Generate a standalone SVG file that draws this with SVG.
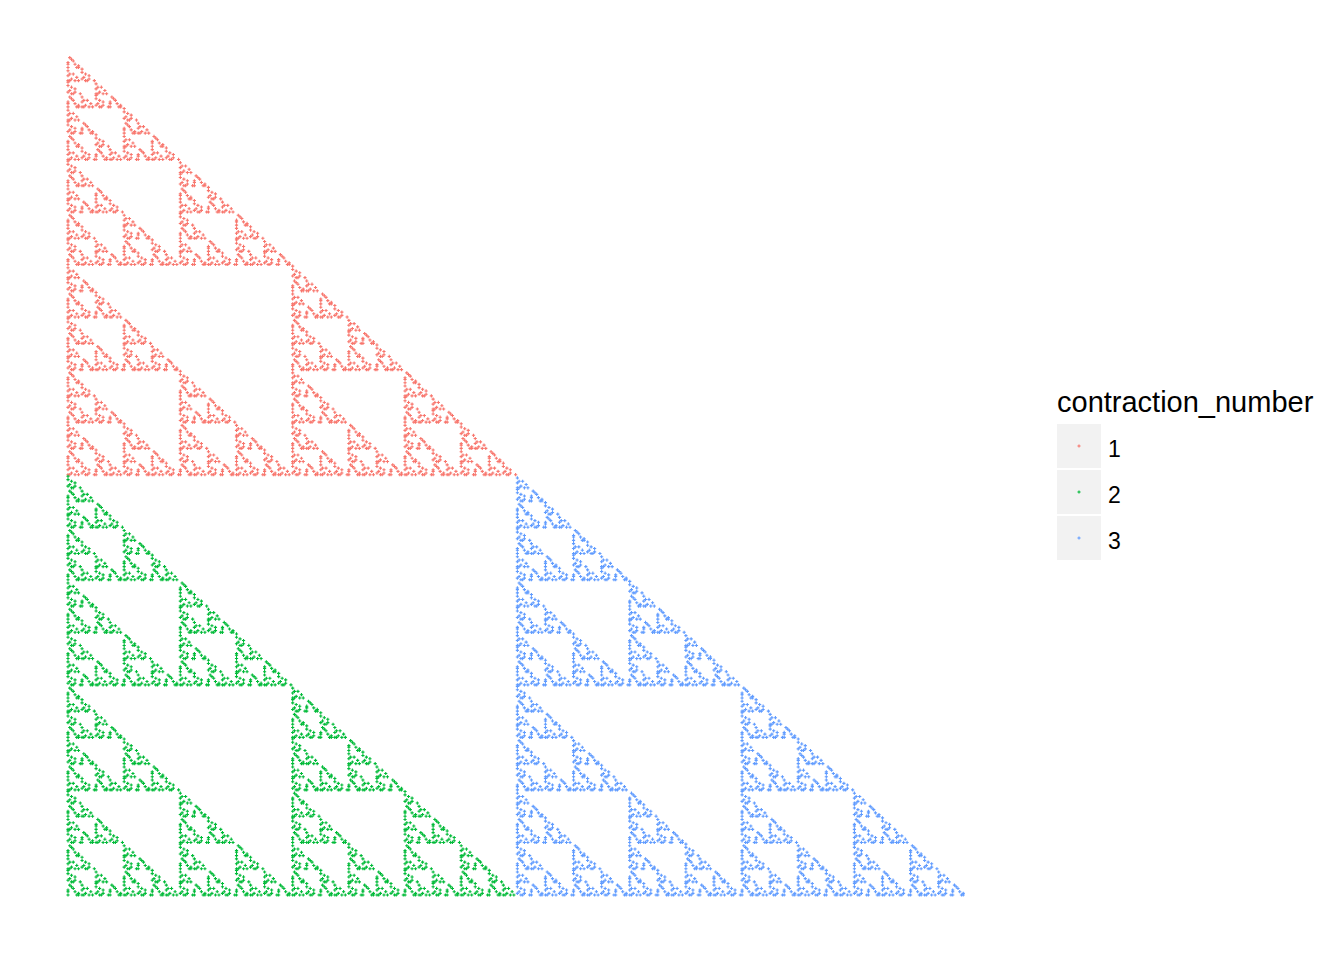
<svg xmlns="http://www.w3.org/2000/svg" width="1344" height="960" viewBox="0 0 1344 960">
<style>
.r{stroke:#F8766D;stroke-width:1.1;fill:none}
.g{stroke:#00BA38;stroke-width:1.1;fill:none}
.b{stroke:#619CFF;stroke-width:1.1;fill:none}
.key{fill:#F2F2F2}
.t{font-family:"Liberation Sans",Arial,sans-serif;fill:#000}
</style>
<defs>
<path id="p" d="M-1.6 0H1.6M0-1.6V1.6"/>
<g id="A3"><use href="#p"/><use href="#p" x="1.755"/><use href="#p" x="7.022"/><use href="#p" x="10.532"/><use href="#p" x="3.511" y="-1.642"/><use href="#p" x="8.777" y="-3.284"/><use href="#p" y="-4.926"/><use href="#p" x="1.755" y="-6.568"/><use href="#p" x="5.266" y="-6.568"/><use href="#p" y="-9.851"/></g>
<g id="B3"><use href="#p" x="3.511"/><use href="#p" x="5.266"/><use href="#p" x="12.288"/><use href="#p" y="-1.642"/><use href="#p" x="7.022" y="-1.642"/><use href="#p" x="1.755" y="-3.284"/><use href="#p" x="7.022" y="-4.926"/><use href="#p" x="3.511" y="-6.568"/><use href="#p" y="-8.209"/><use href="#p" y="-11.493"/></g>
<g id="C3"><use href="#p"/><use href="#p" x="8.777"/><use href="#p" x="10.532"/><use href="#p" x="10.532" y="-1.642"/><use href="#p" y="-3.284"/><use href="#p" x="7.022" y="-3.284"/><use href="#p" y="-4.926"/><use href="#p" x="5.266" y="-6.568"/><use href="#p" x="3.511" y="-8.209"/><use href="#p" x="1.755" y="-9.851"/></g>
<g id="A4"><use href="#A3"/><use href="#B3" x="14.043"/><use href="#C3" y="-13.135"/></g>
<g id="B4"><use href="#C3"/><use href="#A3" x="14.043"/><use href="#B3" y="-13.135"/></g>
<g id="C4"><use href="#B3"/><use href="#C3" x="14.043"/><use href="#A3" y="-13.135"/></g>
<g id="A5"><use href="#A4"/><use href="#B4" x="28.086"/><use href="#C4" y="-26.270"/></g>
<g id="B5"><use href="#C4"/><use href="#A4" x="28.086"/><use href="#B4" y="-26.270"/></g>
<g id="C5"><use href="#B4"/><use href="#C4" x="28.086"/><use href="#A4" y="-26.270"/></g>
<g id="A6"><use href="#A5"/><use href="#B5" x="56.172"/><use href="#C5" y="-52.540"/></g>
<g id="B6"><use href="#C5"/><use href="#A5" x="56.172"/><use href="#B5" y="-52.540"/></g>
<g id="C6"><use href="#B5"/><use href="#C5" x="56.172"/><use href="#A5" y="-52.540"/></g>
<g id="A7"><use href="#A6"/><use href="#B6" x="112.345"/><use href="#C6" y="-105.080"/></g>
<g id="B7"><use href="#C6"/><use href="#A6" x="112.345"/><use href="#B6" y="-105.080"/></g>
<g id="C7"><use href="#B6"/><use href="#C6" x="112.345"/><use href="#A6" y="-105.080"/></g>
<g id="A8"><use href="#A7"/><use href="#B7" x="224.689"/><use href="#C7" y="-210.160"/></g>
<g id="B8"><use href="#C7"/><use href="#A7" x="224.689"/><use href="#B7" y="-210.160"/></g>
<g id="C8"><use href="#B7"/><use href="#C7" x="224.689"/><use href="#A7" y="-210.160"/></g>
</defs>
<rect width="1344" height="960" fill="#fff"/>
<g id="points">
<g id="contraction-1" class="r"><use href="#A8" x="68" y="474.68"/></g>
<g id="contraction-2" class="g"><use href="#B8" x="68" y="895"/></g>
<g id="contraction-3" class="b"><use href="#C8" x="517.38" y="895"/></g>
</g>
<g id="legend">
<text class="t" x="1057" y="412" font-size="29">contraction_number</text>
<g id="key-1"><rect class="key" x="1057" y="424" width="44" height="44"/><use href="#p" class="r" x="1079" y="446"/><text class="t" x="1108" y="457" font-size="23">1</text></g>
<g id="key-2"><rect class="key" x="1057" y="470" width="44" height="44"/><use href="#p" class="g" x="1079" y="492"/><text class="t" x="1108" y="503" font-size="23">2</text></g>
<g id="key-3"><rect class="key" x="1057" y="516" width="44" height="44"/><use href="#p" class="b" x="1079" y="538"/><text class="t" x="1108" y="549" font-size="23">3</text></g>
</g>
</svg>
